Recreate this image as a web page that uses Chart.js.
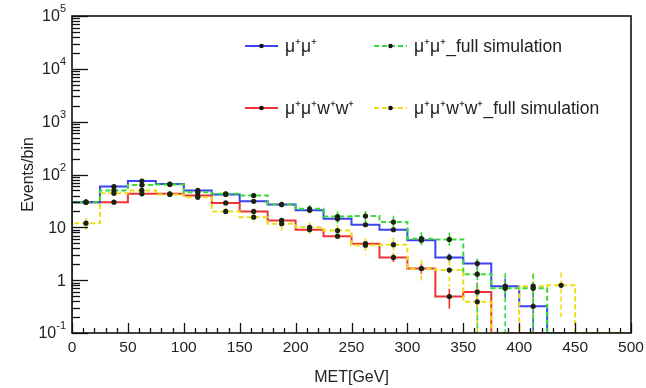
<!DOCTYPE html>
<html><head><meta charset="utf-8">
<script src="https://cdn.jsdelivr.net/npm/chart.js@4.4.1/dist/chart.umd.min.js"></script>
<style>html,body{margin:0;padding:0;background:#fff;}#wrap{width:646px;height:388px;position:relative;}</style>
</head><body><div id="wrap"><canvas id="c" width="646" height="388"></canvas></div>
<script>
// ---- data (MET histogram, 25 GeV bins) ----
const binEdges = [0,25,50,75,100,125,150,175,200,225,250,275,300,325,350,375,400,425,450,475,500];
const xTickValues = [0,50,100,150,200,250,300,350,400,450,500];
const yTickValues = [0.1,1,10,100,1000,10000,100000];
const yTickBases = ['10','1','10','10','10','10','10'];
const yTickExps  = ['-1','','','2','3','4','5'];
const seriesNames = ['μ⁺μ⁺','μ⁺μ⁺_full simulation','μ⁺μ⁺w⁺w⁺','μ⁺μ⁺w⁺w⁺_full simulation'];
const mumu       = [30,59,75,66,50,42,31,27,21,14.5,11.2,9,5.7,2.7,2.06,0.77,0.32,0,0,0];
const mumuFull   = [30,50,63,65,46,43,40,27,22.5,16,16.3,12.6,6.1,5.9,1.3,0.70,0.70,0,0,0];
const mumuww     = [30,30,43,43,40,29,20,13.5,9,6.8,4.9,2.7,1.66,0.49,0.6,0,0,0,0,0];
const mumuwwFull = [12,44,50,42,37,20,15.6,11.7,10,8.7,4.6,4.7,1.66,1.55,0.39,0,0.77,0.8,0,0];
const errMumu       = [1.5,2.5,2.5,2.5,2,2,1.5,1.5,1.2,1,1,0.8,0.7,0.5,0.45,0.3,0.3,0,0,0];
const errMumuFull   = [4,5,6,6,5,5,5,4,4,4,4,4,2,2,1.2,0.65,0.6,0,0,0];
const errMumuww     = [1.5,2,2,2,2,1.5,1.2,1,0.8,0.7,0.6,0.5,0.35,0.2,0.3,0,0,0,0,0];
const errMumuwwFull = [3,5,5,5,5,3.5,3,3,2.5,2.2,1.6,1.8,0.8,0.8,0.35,0,0.6,0.6,0,0];

// ---- styles ----
const styles = [
  {color:'#3a44f0', dash:[]},
  {color:'#33dd33', dash:[5,3]},
  {color:'#ee3333', dash:[]},
  {color:'#eedd11', dash:[5,3]}
];
const YMIN = 0.1;
const seriesVals = [mumu, mumuFull, mumuww, mumuwwFull];
const seriesErr = [errMumu, errMumuFull, errMumuww, errMumuwwFull];

function stepData(vals){
  const pts = [{x: binEdges[0], y: YMIN}];
  vals.forEach((v,i)=>pts.push({x: binEdges[i], y: v>0 ? v : YMIN}));
  pts.push({x: binEdges[binEdges.length-1], y: vals[vals.length-1]>0 ? vals[vals.length-1] : YMIN});
  return pts;
}
function markerData(vals){
  return vals.map((v,i)=>({x:(binEdges[i]+binEdges[i+1])/2, y: v>0 ? v : null}));
}

const drawOrder = [2,0,3,1]; // red, blue, yellow, green (bottom -> top)
const datasets = [];
drawOrder.forEach((si,k)=>{
  datasets.push({
    label: seriesNames[si], data: stepData(seriesVals[si]), stepped: 'before',
    borderColor: styles[si].color, borderWidth: 2, borderDash: styles[si].dash,
    pointRadius: 0, fill: false, order: 10 - k
  });
});
drawOrder.forEach((si,k)=>{
  datasets.push({
    label: seriesNames[si] + ' markers', data: markerData(seriesVals[si]), showLine: false,
    pointRadius: 2.6, pointBackgroundColor: '#1b2210', pointBorderWidth: 0, order: 1
  });
});

const FONT = "'Liberation Sans', Arial, Helvetica, sans-serif";

const errorBars = {
  id: 'errorBars',
  beforeDatasetsDraw(chart){
    const {ctx, chartArea: a, scales: {x, y}} = chart;
    ctx.save();
    ctx.beginPath(); ctx.rect(a.left, a.top, a.right - a.left, a.bottom - a.top); ctx.clip();
    drawOrder.forEach(si=>{
      ctx.strokeStyle = styles[si].color; ctx.lineWidth = 1.6; ctx.setLineDash(styles[si].dash);
      seriesVals[si].forEach((v,i)=>{
        const e = seriesErr[si][i];
        if (!(v>0) || !(e>0)) return;
        const cx = x.getPixelForValue((binEdges[i]+binEdges[i+1])/2);
        const lo = Math.max(v - e, YMIN*0.5);
        ctx.beginPath();
        ctx.moveTo(cx, y.getPixelForValue(v + e));
        ctx.lineTo(cx, y.getPixelForValue(lo));
        ctx.stroke();
      });
    });
    ctx.restore();
  }
};

const frame = {
  id: 'frame',
  afterDraw(chart){
    const {ctx, chartArea: a, scales: {x, y}} = chart;
    ctx.save();
    ctx.strokeStyle = '#111'; ctx.lineWidth = 1.3; ctx.setLineDash([]);
    for (let d = -1; d <= 5; d++){
      for (let m = 1; m <= 9; m++){
        const v = m * Math.pow(10, d);
        if (v > 1e5) break;
        const py = Math.round(y.getPixelForValue(v)) + 0.5;
        const len = m === 1 ? 16 : 8;
        ctx.beginPath(); ctx.moveTo(a.left, py); ctx.lineTo(a.left + len, py); ctx.stroke();
      }
    }
    for (let v = 0; v <= 500; v += 10){
      const px = Math.round(x.getPixelForValue(v)) + 0.5;
      const len = v % 50 === 0 ? 10 : 5;
      ctx.beginPath(); ctx.moveTo(px, a.bottom); ctx.lineTo(px, a.bottom - len); ctx.stroke();
    }
    ctx.lineWidth = 1.6;
    ctx.strokeRect(a.left, a.top, a.right - a.left, a.bottom - a.top);
    ctx.fillStyle = '#222';
    ctx.textBaseline = 'middle';
    yTickValues.forEach((v,i)=>{
      const py = y.getPixelForValue(v);
      const right = a.left - 6;
      ctx.font = '11px ' + FONT;
      const ew = yTickExps[i] ? ctx.measureText(yTickExps[i]).width : 0;
      ctx.textAlign = 'right';
      if (ew) ctx.fillText(yTickExps[i], right, py - 7);
      ctx.font = '16px ' + FONT;
      ctx.fillText(yTickBases[i], right - ew, py + 1);
    });
    ctx.restore();
  }
};

const legendBox = {
  id: 'legendBox',
  afterDraw(chart){
    const {ctx} = chart;
    const entries = [
      {si:0, x:245, y:46}, {si:1, x:374, y:46},
      {si:2, x:245, y:108}, {si:3, x:374, y:108}
    ];
    ctx.save();
    entries.forEach(en=>{
      const st = styles[en.si];
      ctx.strokeStyle = st.color; ctx.lineWidth = 2; ctx.setLineDash(st.dash);
      ctx.beginPath(); ctx.moveTo(en.x, en.y); ctx.lineTo(en.x + 33, en.y); ctx.stroke();
      ctx.setLineDash([]);
      ctx.fillStyle = '#111';
      ctx.beginPath(); ctx.arc(en.x + 16.5, en.y, 2.3, 0, Math.PI*2); ctx.fill();
      ctx.fillStyle = '#222';
      ctx.font = '17.5px ' + FONT;
      ctx.textBaseline = 'middle';
      ctx.fillText(seriesNames[en.si], en.x + 40, en.y + 1);
    });
    ctx.restore();
  }
};

new Chart(document.getElementById('c'), {
  type: 'line',
  data: { datasets },
  options: {
    responsive: false, animation: false, devicePixelRatio: 1,
    layout: { padding: { left: 0, top: 16, right: 15, bottom: 0 } },
    plugins: { legend: { display: false }, tooltip: { enabled: false } },
    scales: {
      x: {
        type: 'linear', min: 0, max: 500,
        grid: { display: false, drawTicks: false }, border: { display: false },
        afterBuildTicks: s => { s.ticks = xTickValues.map(v => ({ value: v })); },
        afterFit: s => { s.height = 55; s.paddingLeft = 0; s.paddingRight = 0; },
        ticks: { autoSkip: false, maxRotation: 0, padding: 5, color: '#222', font: { size: 15.5, family: FONT } },
        title: { display: true, text: 'MET[GeV]', color: '#222', font: { size: 16, family: FONT }, padding: { top: 0, bottom: 1 } }
      },
      y: {
        type: 'logarithmic', min: 0.1, max: 100000,
        grid: { display: false, drawTicks: false }, border: { display: false },
        afterBuildTicks: s => { s.ticks = yTickValues.map(v => ({ value: v })); },
        afterFit: s => { s.width = 72; },
        ticks: { display: false },
        title: { display: true, text: 'Events/bin', color: '#222', font: { size: 16, family: FONT }, padding: { top: 19, bottom: 0 } }
      }
    }
  },
  plugins: [errorBars, frame, legendBox]
});
</script>
</body></html>
